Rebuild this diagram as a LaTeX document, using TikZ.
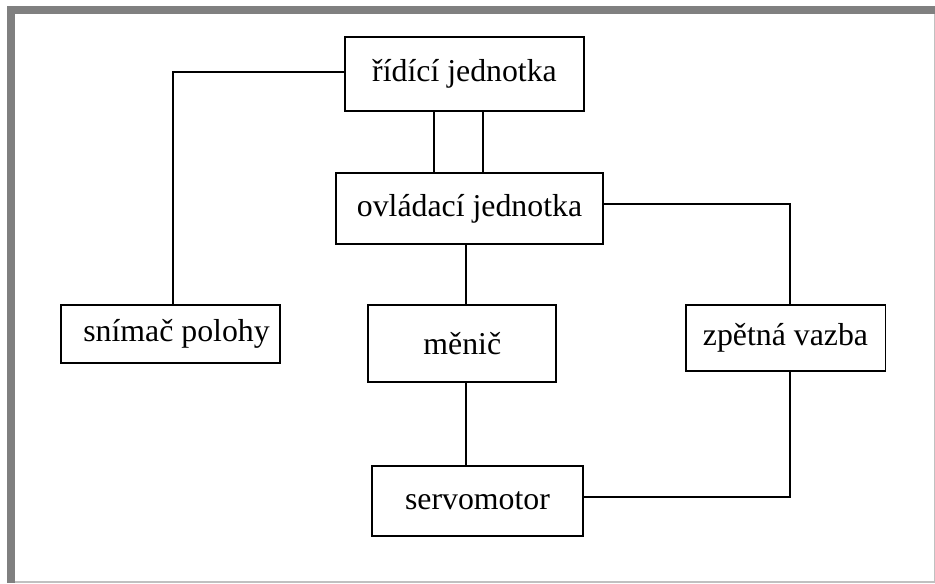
\documentclass[tikz,border=0pt]{standalone}
\usepackage{fontspec}
\setmainfont{Liberation Serif}
\usetikzlibrary{positioning}
\definecolor{frameDark}{HTML}{808080}
\definecolor{frameLight}{HTML}{C0C0C0}
\begin{document}
\begin{tikzpicture}[x=0.02cm, y=-0.02cm]
		\tikzstyle{every node}=[font=\fontsize{18.1pt}{22pt}\selectfont]
		\tikzset{
			blok/.style={draw, line width=1.1pt, inner sep=0pt, align=center},
			spoj/.style={line width=1.1pt}
		}
		
		\useasboundingbox (0,0) rectangle (935,583);
		\fill[frameDark] (7,6) rectangle (15,583);
		\fill[frameDark] (7,6) rectangle (935,14);
		\draw[frameLight, line width=0.6pt] (15,582) -- (935,582);
		\draw[frameLight, line width=0.6pt] (934.4,14) -- (934.4,582);
		
		\node[blok, minimum width=4.78cm, minimum height=1.48cm] (ridici) at (464.5,74) {řídící jednotka};
		\node[blok, minimum width=5.34cm, minimum height=1.42cm] (ovladaci) at (469.5,208.5) {ovládací jednotka};
		\node[blok, minimum width=4.38cm, minimum height=1.16cm] (snimac) at (170.5,334) {\hspace*{0.24cm}snímač polohy};
		\node[blok, minimum width=3.76cm, minimum height=1.54cm] (menic) at (462.3,343.5) {měnič};
		\node[blok, minimum width=4.00cm, minimum height=1.32cm] (zpetna) at (785.5,338) {zpětná vazba};
		\node[blok, minimum width=4.22cm, minimum height=1.40cm] (servo) at (477.5,501) {servomotor};
		
		\coordinate (osa) at (466,0);
		
		\draw[spoj] ([xshift=-0.61cm]ridici.south) -- ([xshift=-0.61cm]ridici.south |- ovladaci.north);
		\draw[spoj] ([xshift=0.37cm]ridici.south) -- ([xshift=0.37cm]ridici.south |- ovladaci.north);
		\draw[spoj] ([xshift=0.05cm]snimac.north) |- ([yshift=0.04cm]ridici.west);
		\draw[spoj] ([yshift=0.09cm]ovladaci.east) -| ([xshift=0.09cm]zpetna.north);
		\draw[spoj] (osa |- ovladaci.south) -- (osa |- menic.north);
		\draw[spoj] (osa |- menic.south) -- (osa |- servo.north);
		\draw[spoj] ([yshift=0.08cm]servo.east) -| ([xshift=0.09cm]zpetna.south);
		
	\end{tikzpicture}
\end{document}
